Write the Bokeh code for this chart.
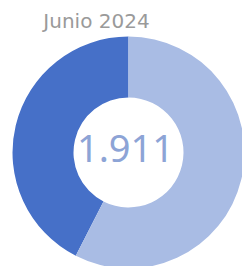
from bokeh.plotting import figure
from bokeh.models import Range1d, ColumnDataSource
from bokeh.core.properties import value
from bokeh.embed import file_html
from bokeh.resources import INLINE
import math

title_text = "Junio 2024"
categories = ["A", "B"]
values = [812, 1099]
colors = ["#4670C8", "#A9BCE4"]
total_label = "1.911"

W, H = 242, 266
p = figure(width=W, height=H, output_backend="svg", toolbar_location=None,
           x_range=Range1d(0, W), y_range=Range1d(-H, 0),
           min_border=0)
p.axis.visible = False
p.grid.visible = False
p.outline_line_color = None
p.background_fill_color = "white"
p.border_fill_color = "white"

total = sum(values)
starts, ends = [], []
a = math.pi / 2
for v in values:
    starts.append(a)
    a += 2 * math.pi * v / total
    ends.append(a)

src = ColumnDataSource(dict(cat=categories, start=starts, end=ends, color=colors))
p.annular_wedge(x=128, y=-152, inner_radius=55, outer_radius=116,
                start_angle="start", end_angle="end", color="color",
                line_color=None, source=src)

p.text(x=[125], y=[-148], text=[total_label], text_font=value("Noto Sans"),
       text_font_size="38px", text_color="#8DA4D6", text_align="center",
       text_baseline="middle")
p.text(x=[96], y=[-20], text=[title_text], text_font=value("DejaVu Sans"),
       text_font_size="20px", text_color="#9A9A9A", text_align="center",
       text_baseline="middle")

open("out.html", "w").write(file_html(p, INLINE))
